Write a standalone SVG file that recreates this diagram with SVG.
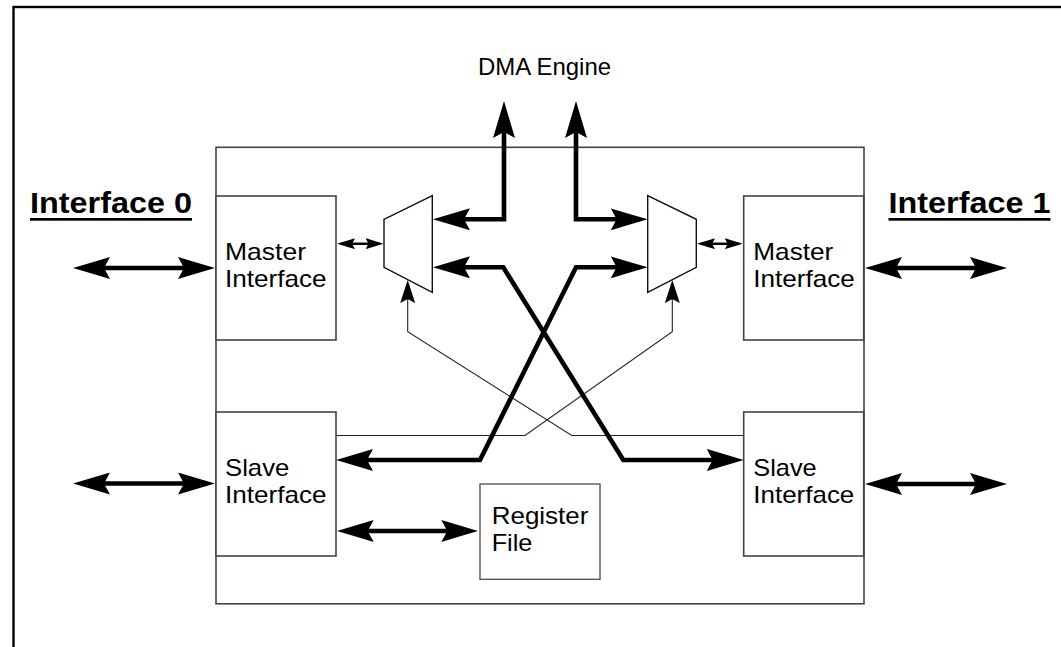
<svg xmlns="http://www.w3.org/2000/svg" width="1061" height="647" viewBox="0 0 1061 647">
<style>
.frame{fill:none;stroke:#000;stroke-width:2.4}
.blk{fill:none;stroke:#444;stroke-width:1.6}
.box{fill:#fff;stroke:#444;stroke-width:1.6}
.mux{fill:#fff;stroke:#111;stroke-width:1.4}
.t{font-family:"Liberation Sans",Arial,Helvetica,sans-serif;font-size:24px;fill:#000}
.h{font-family:"Liberation Sans",Arial,Helvetica,sans-serif;font-size:29.5px;font-weight:bold;fill:#000}
.thick{fill:none;stroke:#000;stroke-width:4.6;stroke-linejoin:miter}
.small{fill:none;stroke:#000;stroke-width:2.6}
.thin{fill:none;stroke:#222;stroke-width:1.1}
</style>
<defs>
<marker id="ah" viewBox="0 -11 37 22" refX="27" refY="0" markerWidth="37" markerHeight="22" markerUnits="userSpaceOnUse" orient="auto-start-reverse">
<path d="M0,-11 Q20,-5 37,0 Q20,5 0,11 L6,0 Z" fill="#000"/>
</marker>
<marker id="sa" viewBox="0 -5.5 18 11" refX="14" refY="0" markerWidth="18" markerHeight="11" markerUnits="userSpaceOnUse" orient="auto-start-reverse">
<path d="M0,-5.5 L18,0 L0,5.5 L3,0 Z" fill="#000"/>
</marker>
<marker id="ta" viewBox="0 -7.5 23 15" refX="13" refY="0" markerWidth="23" markerHeight="15" markerUnits="userSpaceOnUse" orient="auto-start-reverse">
<path d="M0,-7.5 L23,0 L0,7.5 L4,0 Z" fill="#000"/>
</marker>
</defs>
<rect width="1061" height="647" fill="#fff"/>
<rect class="frame" x="13.5" y="7" width="1100" height="700"/>
<g id="dma-engine">
<text class="t" x="478" y="75" font-size="22" textLength="133" lengthAdjust="spacingAndGlyphs">DMA Engine</text>
</g>
<g id="interface0-label">
<text class="h" x="30" y="213" textLength="162" lengthAdjust="spacingAndGlyphs">Interface 0</text>
<rect x="30" y="218" width="162" height="2.7" fill="#000"/>
</g>
<g id="interface1-label">
<text class="h" x="888.5" y="213" textLength="162" lengthAdjust="spacingAndGlyphs">Interface 1</text>
<rect x="888.5" y="218" width="162" height="2.7" fill="#000"/>
</g>
<g id="main-block">
<rect class="blk" x="216" y="147.3" width="648" height="456.5"/>
</g>
<g id="master-interface-0">
<rect class="box" x="216" y="196" width="120" height="144"/>
<text class="t" x="225" y="260" textLength="81" lengthAdjust="spacingAndGlyphs">Master</text>
<text class="t" x="225" y="287" textLength="101.5" lengthAdjust="spacingAndGlyphs">Interface</text>
</g>
<g id="master-interface-1">
<rect class="box" x="743.7" y="196" width="120" height="144"/>
<text class="t" x="753.3" y="260" textLength="80" lengthAdjust="spacingAndGlyphs">Master</text>
<text class="t" x="753.3" y="287" textLength="101.5" lengthAdjust="spacingAndGlyphs">Interface</text>
</g>
<g id="slave-interface-0">
<rect class="box" x="216" y="412" width="120" height="144"/>
<text class="t" x="225" y="476" textLength="64.3" lengthAdjust="spacingAndGlyphs">Slave</text>
<text class="t" x="225" y="503" textLength="101.5" lengthAdjust="spacingAndGlyphs">Interface</text>
</g>
<g id="slave-interface-1">
<rect class="box" x="743.7" y="412" width="120" height="144"/>
<text class="t" x="753.3" y="476" textLength="63.4" lengthAdjust="spacingAndGlyphs">Slave</text>
<text class="t" x="753.3" y="503" textLength="101" lengthAdjust="spacingAndGlyphs">Interface</text>
</g>
<g id="register-file">
<rect class="box" x="480" y="484" width="120" height="95.3" style="stroke:#555;stroke-width:1.4"/>
<text class="t" x="491.7" y="524" textLength="96.7" lengthAdjust="spacingAndGlyphs">Register</text>
<text class="t" x="491.7" y="550.7" textLength="40.7" lengthAdjust="spacingAndGlyphs">File</text>
</g>
<g id="connectors">
<path class="thin" d="M743.7,435.5 L571.7,435.5 L407.7,331.7 L407.7,290" marker-end="url(#ta)"/>
<path class="thin" d="M336,435.5 L525,435.5 L672.3,331.7 L672.3,290" marker-end="url(#ta)"/>
<path class="thick" d="M83,268 L205,268" marker-start="url(#ah)" marker-end="url(#ah)"/>
<path class="thick" d="M83,483.5 L205,483.5" marker-start="url(#ah)" marker-end="url(#ah)"/>
<path class="thick" d="M875,268 L997,268" marker-start="url(#ah)" marker-end="url(#ah)"/>
<path class="thick" d="M875,484 L997,484" marker-start="url(#ah)" marker-end="url(#ah)"/>
<path class="thick" d="M346.7,531 L468.3,531" marker-start="url(#ah)" marker-end="url(#ah)"/>
<path class="thick" d="M504,111 L504,219.3 L443,219.3" marker-start="url(#ah)" marker-end="url(#ah)"/>
<path class="thick" d="M576,111 L576,219.3 L637.7,219.3" marker-start="url(#ah)" marker-end="url(#ah)"/>
<path class="thick" d="M443,267.3 L503.3,267.3 L623.3,460 L733.7,460" marker-start="url(#ah)" marker-end="url(#ah)"/>
<path class="thick" d="M637.7,267.3 L576,267.3 L480,460 L346,460" marker-start="url(#ah)" marker-end="url(#ah)"/>
<path class="small" d="M341,243.7 L379.5,243.7" marker-start="url(#sa)" marker-end="url(#sa)"/>
<path class="small" d="M701,243.7 L738.7,243.7" marker-start="url(#sa)" marker-end="url(#sa)"/>
</g>
<g id="mux-0">
<polygon class="mux" points="384,219.3 432.3,195.7 432.3,292.3 384,267.3"/>
</g>
<g id="mux-1">
<polygon class="mux" points="647.7,195.7 696.3,219.3 696.3,267.3 647.7,292.3"/>
</g>
</svg>
